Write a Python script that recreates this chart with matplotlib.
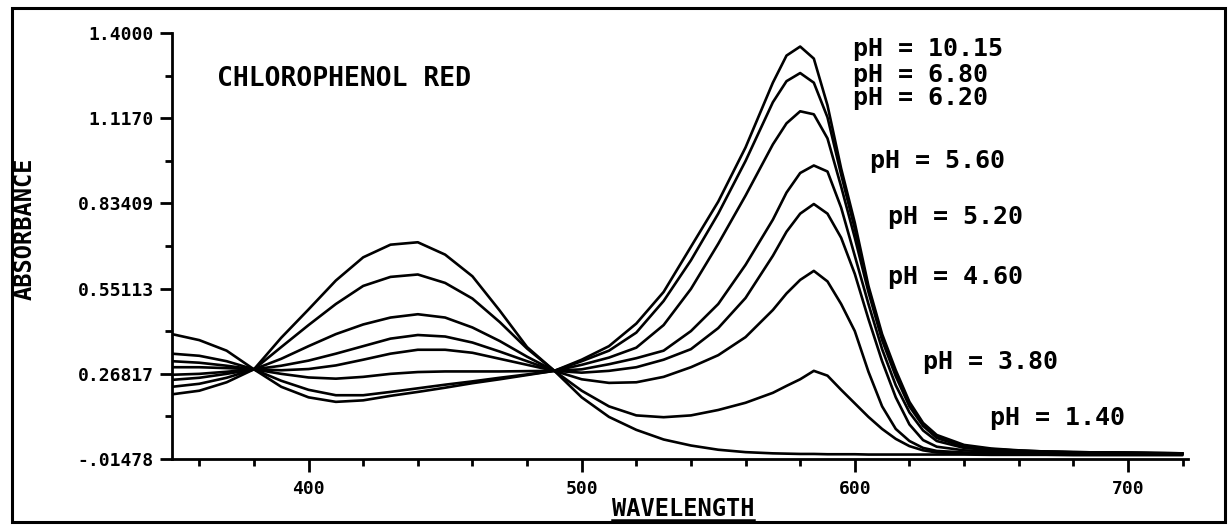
import matplotlib
matplotlib.use("Agg")
import matplotlib.pyplot as plt
from matplotlib.lines import Line2D
from matplotlib.patches import Rectangle
from matplotlib.ticker import FixedLocator, MultipleLocator

# ---------------- data ----------------
wavelength = [350, 360, 370, 380, 390, 400, 410, 420, 430, 440, 450, 460, 470, 480, 490,
              500, 510, 520, 530, 540, 550, 560, 570,
              575, 580, 585, 590, 595, 600, 605, 610, 615, 620, 625, 630,
              640, 650, 660, 670, 680, 690, 700, 710, 720]

abs_ph10_15 = [0.400, 0.380, 0.345, 0.283, 0.225, 0.190, 0.175, 0.180, 0.195, 0.208, 0.222, 0.237, 0.250, 0.264, 0.278,
               0.315, 0.360, 0.435, 0.540, 0.690, 0.840, 1.020, 1.235,
               1.325, 1.355, 1.315, 1.160, 0.950, 0.770, 0.560, 0.400, 0.280, 0.175, 0.105, 0.065,
               0.032, 0.020, 0.014, 0.010, 0.008, 0.007, 0.006, 0.005, 0.004]

abs_ph6_80 = [0.335, 0.328, 0.310, 0.283, 0.245, 0.215, 0.197, 0.197, 0.208, 0.220, 0.232, 0.243, 0.255, 0.266, 0.278,
              0.310, 0.345, 0.405, 0.510, 0.645, 0.800, 0.975, 1.170,
              1.240, 1.267, 1.235, 1.120, 0.930, 0.750, 0.550, 0.390, 0.270, 0.170, 0.100, 0.060,
              0.028, 0.018, 0.013, 0.010, 0.008, 0.007, 0.006, 0.005, 0.004]

abs_ph6_20 = [0.310, 0.305, 0.295, 0.283, 0.268, 0.256, 0.252, 0.258, 0.268, 0.274, 0.276, 0.276, 0.276, 0.277, 0.278,
              0.298, 0.322, 0.355, 0.430, 0.550, 0.700, 0.860, 1.030,
              1.100, 1.140, 1.130, 1.050, 0.890, 0.720, 0.540, 0.380, 0.260, 0.160, 0.095, 0.055,
              0.026, 0.017, 0.012, 0.009, 0.008, 0.007, 0.006, 0.005, 0.004]

abs_ph5_60 = [0.290, 0.290, 0.287, 0.283, 0.280, 0.284, 0.296, 0.315, 0.335, 0.348, 0.348, 0.338, 0.318, 0.298, 0.278,
              0.283, 0.300, 0.320, 0.345, 0.410, 0.500, 0.630, 0.780,
              0.870, 0.935, 0.960, 0.940, 0.820, 0.660, 0.500, 0.350, 0.230, 0.140, 0.080, 0.045,
              0.022, 0.015, 0.011, 0.009, 0.007, 0.006, 0.005, 0.004, 0.004]

abs_ph5_20 = [0.265, 0.268, 0.275, 0.283, 0.295, 0.312, 0.335, 0.360, 0.385, 0.397, 0.392, 0.372, 0.342, 0.310, 0.278,
              0.272, 0.278, 0.290, 0.315, 0.350, 0.420, 0.520, 0.660,
              0.740, 0.800, 0.832, 0.800, 0.720, 0.600, 0.450, 0.310, 0.190, 0.100, 0.048, 0.026,
              0.014, 0.010, 0.008, 0.007, 0.006, 0.005, 0.005, 0.004, 0.004]

abs_ph4_60 = [0.248, 0.255, 0.268, 0.283, 0.318, 0.360, 0.400, 0.432, 0.455, 0.466, 0.455, 0.422, 0.377, 0.325, 0.278,
              0.250, 0.238, 0.240, 0.258, 0.290, 0.330, 0.390, 0.480,
              0.535, 0.580, 0.610, 0.575, 0.500, 0.410, 0.275, 0.160, 0.085, 0.045, 0.022, 0.012,
              0.007, 0.005, 0.004, 0.004, 0.003, 0.003, 0.003, 0.002, 0.002]

abs_ph3_80 = [0.225, 0.235, 0.255, 0.283, 0.357, 0.430, 0.500, 0.560, 0.590, 0.598, 0.570, 0.518, 0.440, 0.352, 0.278,
              0.212, 0.160, 0.130, 0.124, 0.130, 0.148, 0.172, 0.205,
              0.228, 0.250, 0.278, 0.262, 0.215, 0.170, 0.125, 0.085, 0.052, 0.028, 0.014, 0.007,
              0.004, 0.003, 0.003, 0.002, 0.002, 0.002, 0.002, 0.001, 0.001]

abs_ph1_40 = [0.200, 0.212, 0.240, 0.283, 0.388, 0.482, 0.578, 0.655, 0.697, 0.705, 0.664, 0.592, 0.478, 0.357, 0.278,
              0.190, 0.125, 0.082, 0.050, 0.030, 0.016, 0.008, 0.004,
              0.003, 0.002, 0.002, 0.001, 0.001, 0.001, 0.000, 0.000, 0.000, 0.000, 0.000, 0.000,
              0.000, -0.001, -0.001, -0.001, -0.002, -0.002, -0.002, -0.002, -0.002]

ph_labels = ["pH = 10.15", "pH = 6.80", "pH = 6.20", "pH = 5.60",
             "pH = 5.20", "pH = 4.60", "pH = 3.80", "pH = 1.40"]

ytick_values = [1.4000, 1.1170, 0.83409, 0.55113, 0.26817, -0.01478]
ytick_labels = ["1.4000", "1.1170", "0.83409", "0.55113", "0.26817", "-.01478"]
xtick_values = [400, 500, 600, 700]
xtick_labels = ["400", "500", "600", "700"]

title_text = "CHLOROPHENOL RED"
xlabel_text = "WAVELENGTH"
ylabel_text = "ABSORBANCE"

# ---------------- figure ----------------
W, H = 1230, 529
fig = plt.figure(figsize=(W / 100, H / 100), dpi=100)
fig.patch.set_facecolor("white")

FONT = "DejaVu Sans Mono"

ax = fig.add_axes([172 / W, 1 - 459 / H, (1188 - 172) / W, 426 / H])
curves = [abs_ph10_15, abs_ph6_80, abs_ph6_20, abs_ph5_60,
          abs_ph5_20, abs_ph4_60, abs_ph3_80, abs_ph1_40]
for series in curves:
    ax.plot(wavelength, series, color="black", lw=1.9,
            solid_joinstyle="round", solid_capstyle="round")

ax.set_xlim(350, 722)
ax.set_ylim(-0.01478, 1.4)
for s in ("top", "right"):
    ax.spines[s].set_visible(False)
for s in ("left", "bottom"):
    ax.spines[s].set_linewidth(2.0)

ax.set_yticks(ytick_values)
ax.set_yticklabels(ytick_labels)
ymid = [(a + b) / 2 for a, b in zip(ytick_values[:-1], ytick_values[1:])]
ax.yaxis.set_minor_locator(FixedLocator(ymid))
ax.set_xticks(xtick_values)
ax.set_xticklabels(xtick_labels)
ax.xaxis.set_minor_locator(MultipleLocator(20))

ax.tick_params(which="major", direction="out", length=9, width=2, pad=4)
ax.tick_params(which="minor", direction="out", length=5, width=2)
ax.tick_params(axis="x", which="major", pad=6)
for lab in ax.get_xticklabels() + ax.get_yticklabels():
    lab.set_fontfamily(FONT)
    lab.set_fontweight("bold")
    lab.set_fontsize(13)

# outer frame
fig.add_artist(Rectangle((12 / W, 1 - 522 / H), (1225 - 12) / W, (522 - 8) / H,
                         transform=fig.transFigure, fill=False, lw=2.2, ec="black"))

big = dict(fontfamily=FONT, fontweight="bold", fontsize=18, color="black")

fig.text(217 / W, 1 - 79 / H, title_text, ha="left", va="center",
         fontfamily=FONT, fontweight="bold", fontsize=19)

label_px = [(853, 49), (853, 75), (853, 98), (870, 161),
            (888, 217), (888, 277), (923, 362), (990, 418)]
for txt, (px, py) in zip(ph_labels, label_px):
    fig.text(px / W, 1 - py / H, txt, ha="left", va="center", **big)

fig.text(25 / W, 1 - 229 / H, ylabel_text, rotation=90, ha="center", va="center",
         fontfamily=FONT, fontweight="bold", fontsize=17)

xl = fig.text(683 / W, 1 - 509 / H, xlabel_text, ha="center", va="center",
              fontfamily=FONT, fontweight="bold", fontsize=17)

fig.canvas.draw()
bb = xl.get_window_extent()
uy = (bb.y0 + 1) / H
fig.add_artist(Line2D([bb.x0 / W, bb.x1 / W], [uy, uy], transform=fig.transFigure,
                      color="black", lw=1.8))

fig.savefig("out.png", dpi=100, facecolor="white")
